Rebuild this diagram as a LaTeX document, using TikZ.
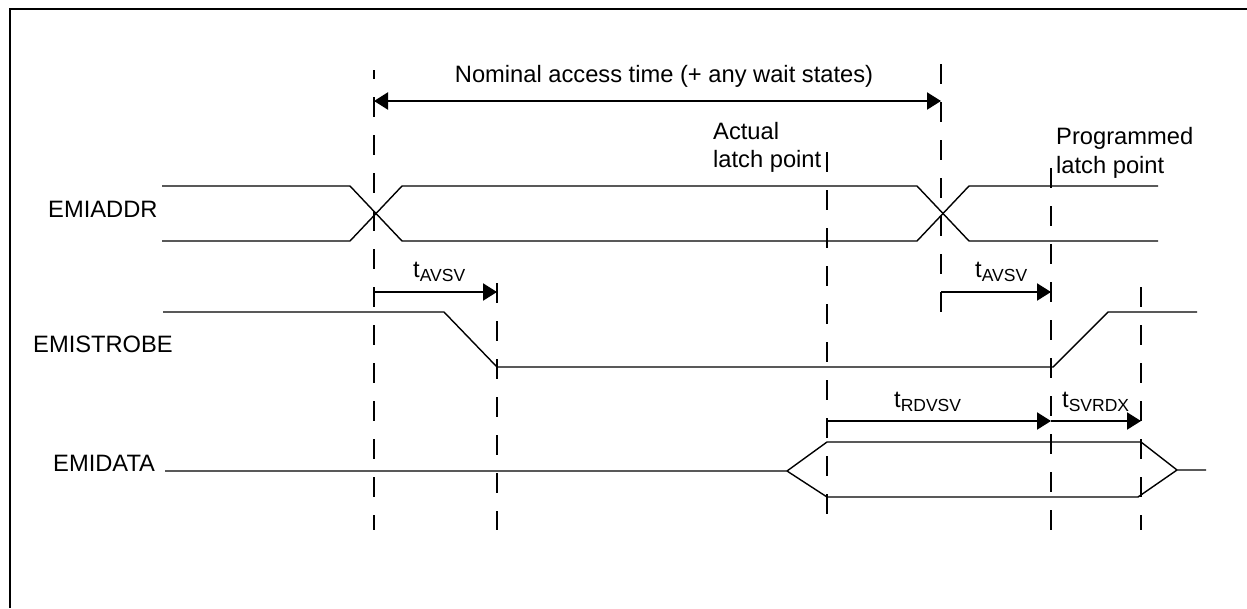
\documentclass[tikz,border=0pt]{standalone}
\usepackage{fontspec}
\setmainfont{Liberation Sans}
\usetikzlibrary{arrows.meta}
% time label with a lowered, smaller subscript
\newcommand\tlabel[1]{t\raisebox{-4pt}{\fontsize{17.5}{17.5}\selectfont #1}}
\begin{document}
\begin{tikzpicture}[x=1pt,y=-1pt,
  bus/.style={line width=1.4pt, line join=miter},
  guide/.style={line width=2pt, dash pattern=on 20pt off 18pt},
  tip/.tip={Triangle[length=14pt,width=17pt]},
  span/.style={line width=2.2pt, -tip},
  lbl/.style={anchor=base west, inner sep=0pt, font=\fontsize{23.7}{28.5}\selectfont},
]
\useasboundingbox (0,0) rectangle (1247,608);
\fill[white] (0,0) rectangle (1247,608);
% frame
\draw[line width=2.7pt] (10,608) -- (10,9) -- (1247,9);

% vertical reference lines
\coordinate (g1t) at (374,70);   \coordinate (g1b) at (374,530);
\coordinate (g2t) at (497,283);  \coordinate (g2b) at (497,530);
\coordinate (g3t) at (827,152);  \coordinate (g3b) at (827,530);
\coordinate (g4t) at (941,64);   \coordinate (g4b) at (941,315);
\coordinate (g5t) at (1051,168); \coordinate (g5b) at (1051,530);
\coordinate (g6t) at (1141,287); \coordinate (g6b) at (1141,530);
\draw[guide, dash phase=11pt] (g1t) -- (g1b);
\draw[guide] (g2t) -- (g2b);
\draw[guide] (g3t) -- (g3b);
\draw[guide] (g4t) -- (g4b);
\draw[guide] (g5t) -- (g5b);
\draw[guide] (g6t) -- (g6b);

% signal names
\node[lbl] (addr) at (48,217) {EMIADDR};
\node[lbl] (strobe) at (33,352) {EMISTROBE};
\node[lbl] (data) at (53,471) {EMIDATA};

% EMIADDR bus
\draw[bus] (162,186) -- (350,186) -- (402,241) -- (917,241) -- (969,186) -- (1158,186);
\draw[bus] (162,241) -- (350,241) -- (402,186) -- (917,186) -- (969,241) -- (1158,241);

% EMISTROBE
\draw[bus] (163,312) -- (444,312) -- (497,367) -- (1053,367) -- (1108,312) -- (1197,312);

% EMIDATA
\draw[bus] (165,471) -- (787,471) -- (827,442) -- (1141,442) -- (1177,470) -- (1206,470);
\draw[bus] (787,471) -- (827,497) -- (1138,497) -- (1177,470);

% access time span
\coordinate (n1) at (374,101); \coordinate (n2) at (941,101);
\draw[span, tip-tip] (n1) -- (n2);
\node[anchor=base, inner sep=0pt, font=\fontsize{23.7}{28.5}\selectfont] (nom) at (664,82)
  {Nominal access time (+ any wait states)};

% timing parameters
\coordinate (a1s) at (374,292);  \coordinate (a1e) at (497,292);
\coordinate (a2s) at (941,292);  \coordinate (a2e) at (1051,292);
\coordinate (r1s) at (827,421);  \coordinate (r1e) at (1051,421);
\coordinate (s1s) at (1051,421); \coordinate (s1e) at (1141,421);
\draw[span] (a1s) -- (a1e);
\draw[span] (a2s) -- (a2e);
\draw[span] (r1s) -- (r1e);
\draw[span] (s1s) -- (s1e);
\node[lbl] (tav1) at (413,277) {\tlabel{AVSV}};
\node[lbl] (tav2) at (975,277) {\tlabel{AVSV}};
\node[lbl] (trd) at (894,407) {\tlabel{RDVSV}};
\node[lbl] (tsv) at (1062,407) {\tlabel{SVRDX}};

% latch point notes
\node[lbl] (act1) at (713,139) {Actual};
\node[lbl] (act2) at (713,167) {latch point};
\node[lbl] (prg1) at (1056,144) {Programmed};
\node[lbl] (prg2) at (1056,173) {latch point};
\end{tikzpicture}
\end{document}
